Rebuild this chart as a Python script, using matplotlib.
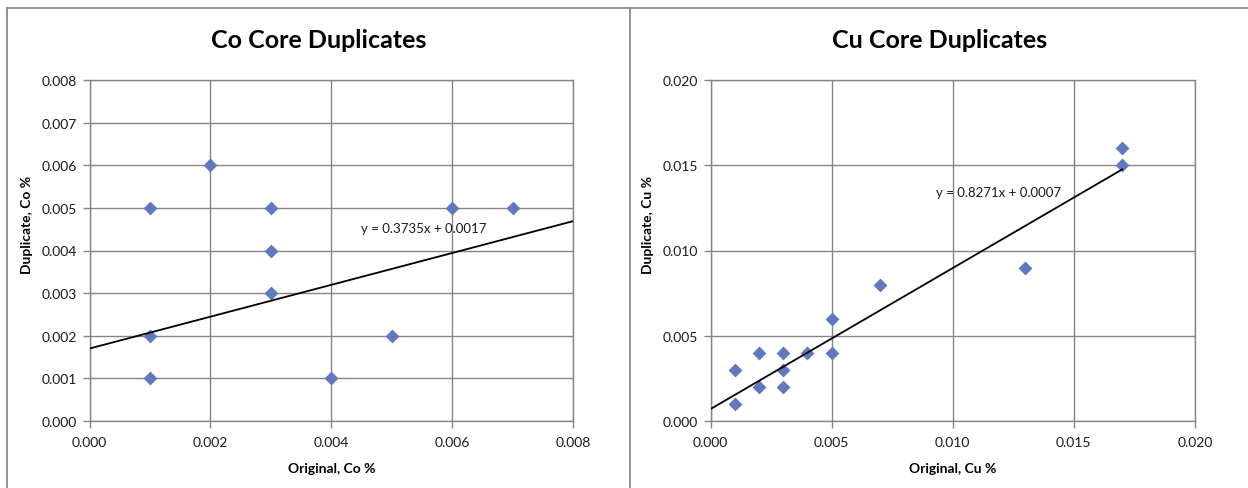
import matplotlib
matplotlib.use("Agg")
import matplotlib.pyplot as plt
import numpy as np
from matplotlib.lines import Line2D

plt.rcParams['font.family'] = ['Lato', 'DejaVu Sans']

# ---- data ----
co_original = [0.001, 0.002, 0.003, 0.003, 0.003, 0.001, 0.001, 0.004, 0.005, 0.006, 0.007]
co_duplicate = [0.005, 0.006, 0.005, 0.004, 0.003, 0.002, 0.001, 0.001, 0.002, 0.005, 0.005]
co_slope, co_intercept = 0.3735, 0.0017
co_line_x = [0.0, 0.008]

cu_original = [0.001, 0.001, 0.002, 0.002, 0.003, 0.003, 0.003, 0.004, 0.005, 0.005, 0.007, 0.013, 0.017, 0.017]
cu_duplicate = [0.003, 0.001, 0.004, 0.002, 0.004, 0.003, 0.002, 0.004, 0.006, 0.004, 0.008, 0.009, 0.016, 0.015]
cu_slope, cu_intercept = 0.8271, 0.0007
cu_line_x = [0.0, 0.017]

co_ticks = [0.000, 0.001, 0.002, 0.003, 0.004, 0.005, 0.006, 0.007, 0.008]
co_xticks = [0.000, 0.002, 0.004, 0.006, 0.008]
cu_ticks = [0.000, 0.005, 0.010, 0.015, 0.020]

W, H = 1248, 489
fig = plt.figure(figsize=(W / 100, H / 100), dpi=100)
fig.patch.set_facecolor('white')

# panel frame lines
frame_kw = dict(color='#8a8a8a', lw=1.3, transform=fig.transFigure)
fig.add_artist(Line2D([7 / W, 1.0], [1 - 9 / H, 1 - 9 / H], **frame_kw))
fig.add_artist(Line2D([7 / W, 7 / W], [0, 1 - 9 / H], **frame_kw))
fig.add_artist(Line2D([630 / W, 630 / W], [0, 1 - 9 / H], **frame_kw))

marker_color = '#6079BE'


def make_ax(left_px, right_px, xs, ys, slope, intercept, line_x, xticks, yticks, lim,
            title, xlabel, ylabel, eq_pos, title_x):
    top_px, bot_px = 81, 422
    ax = fig.add_axes([left_px / W, 1 - bot_px / H, (right_px - left_px) / W, (bot_px - top_px) / H])
    ax.set_xlim(0, lim[0])
    ax.set_ylim(0, lim[1])
    ax.set_xticks(xticks)
    ax.set_yticks(yticks)
    ax.set_xticklabels([f"{t:.3f}" for t in xticks])
    ax.set_yticklabels([f"{t:.3f}" for t in yticks])
    ax.grid(True, color='#858585', lw=1.0)
    ax.set_axisbelow(True)
    for s in ax.spines.values():
        s.set_color('#858585')
        s.set_linewidth(1.0)
    ax.tick_params(axis='both', direction='out', length=5, width=1, color='#858585',
                   labelsize=10, labelcolor='#1a1a1a', pad=4)
    ax.tick_params(axis='x', pad=6)
    ax.scatter(xs, ys, marker='D', s=50, color=marker_color, zorder=3, linewidths=0)
    lx = np.array(line_x)
    ax.plot(lx, slope * lx + intercept, color='black', lw=1.3, zorder=4)
    ax.text(eq_pos[0], eq_pos[1], f"y = {slope}x + {intercept}", fontsize=9.5,
            ha='left', va='center', color='#1a1a1a', zorder=5)
    ax.set_xlabel(xlabel, fontsize=10, fontweight='bold', labelpad=10)
    ax.set_ylabel(ylabel, fontsize=10, fontweight='bold', labelpad=8)
    ax.yaxis.set_label_coords(-0.116, 0.578)
    fig.text(title_x / W, 1 - 41 / H, title, fontsize=18, fontweight='bold',
             ha='center', va='center')
    return ax


make_ax(89.5, 573, co_original, co_duplicate, co_slope, co_intercept, co_line_x,
        co_xticks, co_ticks, (0.008, 0.008),
        "Co Core Duplicates", "Original, Co %", "Duplicate, Co %", (0.00449, 0.00453), 319)

make_ax(710.5, 1195, cu_original, cu_duplicate, cu_slope, cu_intercept, cu_line_x,
        cu_ticks, cu_ticks, (0.020, 0.020),
        "Cu Core Duplicates", "Original, Cu %", "Duplicate, Cu %", (0.00930, 0.01343), 940)

fig.savefig("out.png", dpi=100, facecolor='white')
